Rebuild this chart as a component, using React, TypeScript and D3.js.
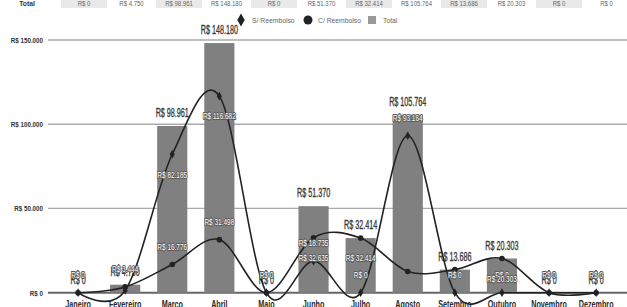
import React from 'react';
import * as d3 from 'd3';

const months = ['Janeiro', 'Fevereiro', 'Março', 'Abril', 'Maio', 'Junho', 'Julho', 'Agosto', 'Setembro', 'Outubro', 'Novembro', 'Dezembro'];
const totals = [0, 4750, 98961, 148180, 0, 51370, 32414, 105764, 13686, 20303, 0, 0];
const semReembolso = [0, 1306, 82185, 116682, 0, 18735, 0, 93164, 0, 0, 0, 0];
const comReembolso = [0, 3444, 16776, 31498, 0, 32635, 32414, 12600, 13686, 20303, 0, 0];
const yTicks = [0, 50000, 100000, 150000];

// where the point labels sit (style only)
const semLabelBelow = [false, false, true, true, false, false, false, false, false, false, false, false];
const comLabelBelow = [false, false, false, false, false, true, true, false, false, true, false, false];
const semLabelHidden = [false, true, false, false, false, false, false, false, false, false, false, false];
const comLabelHidden = [false, false, false, false, false, false, false, true, true, false, false, false];

const W = 627;
const H = 307;
const font = "'Liberation Sans', Arial, sans-serif";

const locale = d3.formatLocale({ decimal: ',', thousands: '.', grouping: [3], currency: ['R$ ', ''] });
const money = (v: number) => 'R$ ' + locale.format(',')(v);

// condensed text: the source uses a narrow font, so squeeze horizontally
type TProps = {
  x: number; y: number; sx: number; size: number; children: React.ReactNode;
  weight?: string; fill?: string; anchor?: string; stroke?: string; sw?: number; halo?: boolean;
};
const T = ({ x, y, sx, size, children, weight = 'normal', fill = '#333', anchor = 'middle', stroke, sw, halo }: TProps) => (
  <text transform={`translate(${x},${y}) scale(${sx},1)`} dy="0.35em" textAnchor={anchor}
    fontFamily={font} fontSize={size} fontWeight={weight} fill={fill} stroke={stroke} strokeWidth={sw}
    style={halo ? { paintOrder: 'stroke' } : undefined} strokeLinejoin="round">
    {children}
  </text>
);

export default function App() {
  const x = d3.scaleBand<string>().domain(months).range([54.5, 619.7]).paddingInner(0.36).paddingOuter(0.18);
  const y = d3.scaleLinear().domain([0, 150000]).range([292.7, 40]);
  const cx = (m: string) => (x(m) as number) + x.bandwidth() / 2;

  const line = d3.line<number>()
    .x((_, i) => cx(months[i]))
    .y(d => y(d))
    .curve(d3.curveCardinal.tension(0));

  const colW = 47.5;
  const colX0 = 84;

  const diamond = d3.symbol().type(d3.symbolDiamond).size(22)();
  const legDiamond = d3.symbol().type(d3.symbolDiamond).size(48)();

  const pointLabel = (v: number, i: number, below: boolean, key: string) => (
    <T key={key} x={cx(months[i])} y={y(v) + (below ? 20 : -18)} sx={0.68} size={9.5}
      fill="#fff" stroke="#5a5a5a" sw={2} halo>
      {money(v)}
    </T>
  );

  return (
    <svg width={W} height={H} style={{ position: 'fixed', left: 0, top: 0, background: '#fff' }}>
      {/* table row on top */}
      <T x={27} y={3.5} sx={0.85} size={8} weight="bold">Total</T>
      {totals.map((v, i) => (
        <g key={'t' + i}>
          {i % 2 === 0 && <rect x={colX0 + i * colW - 23} y={0} width={46} height={8} fill="#e9e9e9" />}
          <T x={colX0 + i * colW} y={3.5} sx={0.8} size={7.5} fill="#666">{money(v)}</T>
        </g>
      ))}

      {/* legend */}
      <path d={legDiamond} transform="translate(241,20)" fill="#222" />
      <T x={252} y={20} sx={0.85} size={8} fill="#666" anchor="start">S/ Reembolso</T>
      <circle cx={308} cy={20} r={4.5} fill="#222" />
      <T x={318} y={20} sx={0.85} size={8} fill="#666" anchor="start">C/ Reembolso</T>
      <rect x={368} y={16} width={8} height={8} fill="#999" />
      <T x={383} y={20} sx={0.85} size={8} fill="#666" anchor="start">Total</T>

      {/* grid + y axis */}
      {yTicks.map(t => (
        <g key={'g' + t}>
          <line x1={48} x2={W} y1={y(t)} y2={y(t)} stroke={t === 0 ? '#666' : '#aaa'} strokeWidth={t === 0 ? 2 : 1.3} />
          <T x={43} y={y(t)} sx={0.78} size={8} weight="bold" anchor="end">{money(t)}</T>
        </g>
      ))}

      {/* bars */}
      {totals.map((v, i) => (
        <rect key={'b' + i} x={x(months[i])} y={y(v)} width={x.bandwidth()} height={y(0) - y(v)} fill="#808080" />
      ))}

      {/* bar labels */}
      {totals.map((v, i) => (
        <T key={'bl' + i} x={cx(months[i])} y={y(v) - 13} sx={0.6} size={12} fill="#3a3a3a" stroke="#3a3a3a" sw={0.35}>{money(v)}</T>
      ))}

      {/* lines */}
      <path d={line(semReembolso) || ''} fill="none" stroke="#222" strokeWidth={1.6} />
      <path d={line(comReembolso) || ''} fill="none" stroke="#222" strokeWidth={1.6} />
      {semReembolso.map((v, i) => (
        <path key={'sp' + i} d={diamond} transform={`translate(${cx(months[i])},${y(v)})`} fill="#222" />
      ))}
      {comReembolso.map((v, i) => (
        <circle key={'cp' + i} cx={cx(months[i])} cy={y(v)} r={2.8} fill="#222" />
      ))}

      {/* point labels */}
      {semReembolso.map((v, i) => semLabelHidden[i] ? null : pointLabel(v, i, semLabelBelow[i], 'sl' + i))}
      {comReembolso.map((v, i) => comLabelHidden[i] ? null : pointLabel(v, i, comLabelBelow[i], 'cl' + i))}

      {/* x axis labels */}
      {months.map(m => (
        <T key={m} x={cx(m)} y={304} sx={0.72} size={10} weight="bold" fill="#2a2a2a">{m}</T>
      ))}
    </svg>
  );
}
